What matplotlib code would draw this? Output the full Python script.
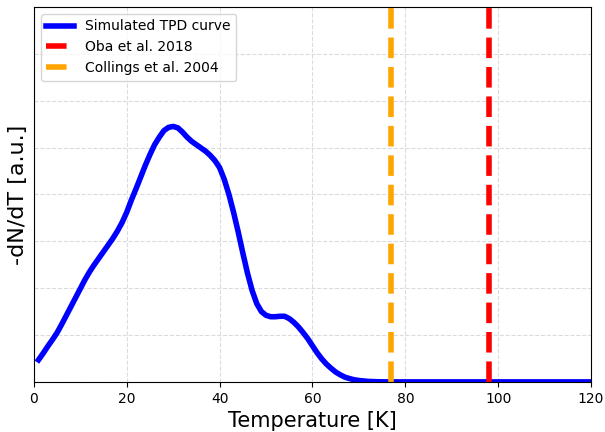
import numpy as np
import matplotlib.pyplot as plt

# Simulated TPD curve (arbitrary units)
temperature = [1, 2, 3, 4, 5, 6, 7, 8, 9, 10, 11, 12, 13, 14, 15, 16, 17, 18, 19, 20,
               21, 22, 23, 24, 25, 26, 27, 28, 29, 30, 31, 32, 33, 34, 35, 36, 37, 38, 39,
               40, 41, 42, 43, 44, 45, 46, 47, 48, 49, 50, 51, 52, 53, 54, 55, 56, 57,
               58, 59, 60, 61, 62, 63, 64, 65, 66, 67, 68, 69, 70, 71, 72, 74, 76, 120]
dndt = [0.47, 0.61, 0.76, 0.90, 1.05, 1.23, 1.42, 1.61, 1.80, 1.99, 2.18, 2.35, 2.50, 2.64,
        2.78, 2.92, 3.06, 3.22, 3.40, 3.62, 3.88, 4.12, 4.37, 4.62, 4.85, 5.06, 5.22, 5.36,
        5.43, 5.45, 5.42, 5.33, 5.22, 5.13, 5.06, 4.99, 4.92, 4.83, 4.72,
        4.57, 4.32, 4.00, 3.62, 3.20, 2.75, 2.32, 1.95, 1.67, 1.50, 1.42, 1.39, 1.39, 1.40,
        1.40, 1.35, 1.27, 1.17, 1.05, 0.92, 0.77, 0.62, 0.49, 0.38, 0.29, 0.21, 0.15, 0.10,
        0.07, 0.045, 0.03, 0.02, 0.01, 0.003, 0.0, 0.0]

# literature desorption temperatures
oba_2018 = 98
collings_2004 = 77

fig, ax = plt.subplots(figsize=(6.05, 4.32), dpi=100)
fig.subplots_adjust(left=0.056, right=0.977, bottom=0.116, top=0.984)

ax.plot(temperature, dndt, color='blue', linewidth=4, solid_joinstyle='round',
        label='Simulated TPD curve')
ax.axvline(oba_2018, color='red', linestyle='--', linewidth=4, label='Oba et al. 2018')
ax.axvline(collings_2004, color='orange', linestyle='--', linewidth=4, label='Collings et al. 2004')

ax.set_xlim(0, 120)
ax.set_ylim(0, 8)
ax.set_yticks(np.arange(0, 9, 1))
ax.tick_params(axis='y', left=False, labelleft=False)
ax.tick_params(axis='x', labelsize=10)
ax.grid(True, linestyle='--', color='lightgray', alpha=0.8)

ax.set_xlabel('Temperature [K]', fontsize=15)
ax.set_ylabel('-dN/dT [a.u.]', fontsize=16)
ax.legend(loc='upper left', fontsize=10)

plt.savefig('out.png', dpi=100)
